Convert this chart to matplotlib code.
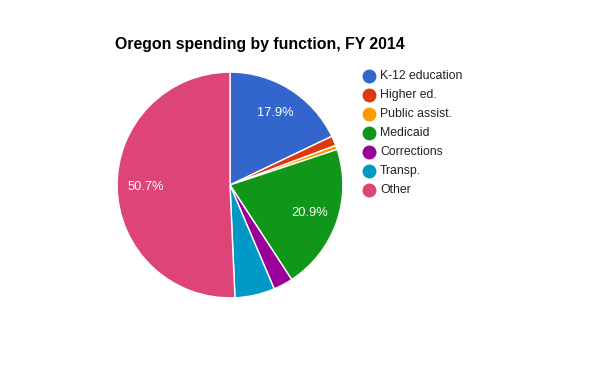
import matplotlib
matplotlib.use("Agg")
import matplotlib.pyplot as plt

plt.rcParams['font.family'] = ['Liberation Sans', 'DejaVu Sans']

categories = ["K-12 education", "Higher ed.", "Public assist.", "Medicaid",
              "Corrections", "Transp.", "Other"]
shares = [17.9, 1.4, 0.6, 20.9, 2.8, 5.7, 50.7]
colors = ["#3366cc", "#dc3912", "#ff9900", "#109618", "#990099", "#0099c6", "#dd4477"]

fig = plt.figure(figsize=(6, 3.71), dpi=100)

# pie: centre at ~(230, 185) px, radius ~114 px
cx, cy, r = 230, 185, 114
ax = fig.add_axes([(cx - r) / 600, (371 - cy - r) / 371, 2 * r / 600, 2 * r / 371])


def fmt(p):
    return "%.1f%%" % p if p >= 10 else ""


wedges, texts, autotexts = ax.pie(
    shares, colors=colors, startangle=90, counterclock=False,
    autopct=fmt, pctdistance=0.75,
    wedgeprops=dict(edgecolor="white", linewidth=1),
    textprops=dict(color="white", fontsize=9.3))
ax.set_xlim(-1.01, 1.01)
ax.set_ylim(-1.01, 1.01)
ax.set_aspect("equal")

fig.text(115 / 600, 1 - 45 / 371, "Oregon spending by function, FY 2014",
         fontsize=11.4, fontweight="bold", va="center", ha="left")

# legend drawn on a pixel-coordinate overlay
lg = fig.add_axes([0, 0, 1, 1])
lg.set_xlim(0, 600)
lg.set_ylim(371, 0)
lg.axis("off")
for i, (name, col) in enumerate(zip(categories, colors)):
    y = 76 + i * 19
    lg.plot(369, y, "o", color=col, markersize=9)
    lg.text(380, y, name, fontsize=8.8, va="center", ha="left", color="#222222")

fig.savefig("out.png", dpi=100)
